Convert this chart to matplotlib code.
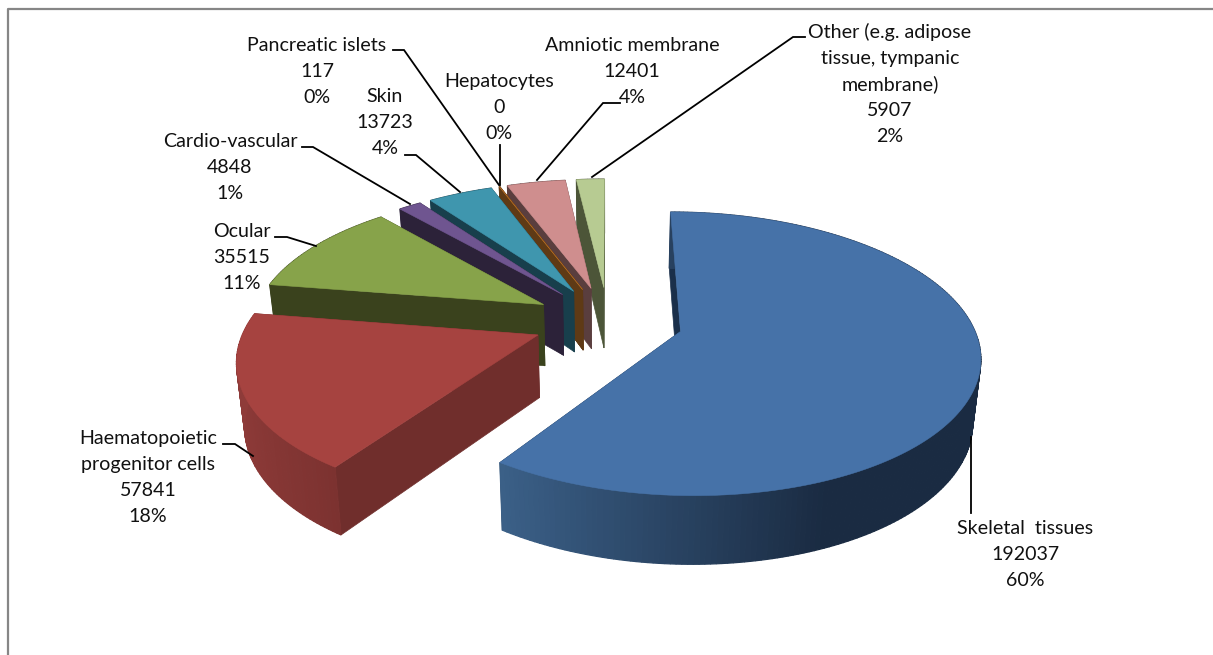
import numpy as np
from matplotlib import pyplot as plt
from matplotlib.colors import to_rgb

labels = ['Skeletal  tissues', 'Haematopoietic\nprogenitor cells', 'Ocular', 'Cardio-vascular',
          'Skin', 'Hepatocytes', 'Pancreatic islets', 'Amniotic membrane',
          'Other (e.g. adipose\ntissue, tympanic\nmembrane)']
values = [192037, 57841, 35515, 4848, 13723, 0, 117, 12401, 5907]
percents = ['60%', '18%', '11%', '1%', '4%', '0%', '0%', '4%', '2%']

top_cols = ['#4672a8', '#a64340', '#87a34a', '#6f5590', '#3f96ae', '#d9822b', '#9c5a22', '#cf8e8e', '#b7cb92']
face_cols = ['#1a2f4a', '#702e2c', '#3a421d', '#2c2239', '#183f4c', '#5f3a15', '#5f3a15', '#5a3e3e', '#4c5538']
side_left = ['#3b6088', '#8f3b39', '#3a421d', '#2c2239', '#183f4c', '#5f3a15', '#5f3a15', '#5a3e3e', '#4c5538']
side_right = ['#1a2b42', '#7c3230', '#3a421d', '#2c2239', '#183f4c', '#5f3a15', '#5f3a15', '#5a3e3e', '#4c5538']

# where the labels sit (centre x, y of the first baseline)
label_pos = [(1025, 534), (148, 444), (242, 237), (230, 147), (385, 102),
             (499, 87), (317, 51), (632, 51), (890, 38)]
leaders = [[(971, 437), (971, 513)],
           [(223, 444), (235, 444), (253, 456)],
           [(275, 237), (287, 237), (316, 246)],
           [(302, 147), (313, 147), (410, 204)],
           [(405, 155), (416, 155), (460, 192)],
           [(500, 145), (500, 185)],
           [(393, 50), (404, 50), (499, 185)],
           [(620, 103), (603, 103), (537, 180)],
           [(805, 37), (793, 37), (592, 177)]]

# pie geometry in pixels
cx, cy = 608, 321
R, A = 291, 135
persp = 0.156
depth = 62
explode = 0.2578
line_gap = 26


def project(x, y, down=0.0):
    # y > 0 is towards the viewer, down is 0 on the top face and 1 on the bottom
    w = 1 / (1 - persp * y)
    return cx + R * x * w * (1 - 0.022 * down), cy + A * y * w + depth * down * (1 + 0.1 * y)


def rim(a, off):
    return off[0] + np.sin(a), off[1] - np.cos(a)


def quad(ax, p, q, col, lw=0.5):
    x0, y0 = project(p[0], p[1])
    x1, y1 = project(q[0], q[1])
    x2, y2 = project(q[0], q[1], 1)
    x3, y3 = project(p[0], p[1], 1)
    ax.fill([x0, x1, x2, x3], [y0, y1, y2, y3], color=col, lw=lw)


fig, ax = plt.subplots(figsize=(12.13, 6.55), dpi=100)
ax.set_position([0, 0, 1, 1])
ax.set_xlim(0, 1213)
ax.set_ylim(655, 0)
ax.axis('off')

ax.plot([7.5, 7.5, 1220], [660, 8.5, 8.5], color='#868686', lw=1.6)

edges = np.cumsum([0] + values) / sum(values) * 2 * np.pi

# back slices first, the two big ones at the front go last
for i in [8, 7, 6, 5, 4, 3, 2, 1, 0]:
    a0, a1 = edges[i], edges[i + 1]
    mid = (a0 + a1) / 2
    off = (explode * np.sin(mid), -explode * np.cos(mid))

    quad(ax, off, rim(a1, off), face_cols[i])
    quad(ax, off, rim(a0, off), face_cols[i])

    aa = np.linspace(a0, a1, max(int((a1 - a0) * 60), 2))
    c0, c1 = np.array(to_rgb(side_left[i])), np.array(to_rgb(side_right[i]))
    for j in range(len(aa) - 1):
        # the outer wall gets darker going right, over a different span for blue and red
        s = np.sin(aa[j])
        t = (s + 0.56) / 0.95 if i == 0 else (s + 1) / 0.44
        c = c0 + (c1 - c0) * np.clip(t, 0, 1)
        quad(ax, rim(aa[j], off), rim(aa[j + 1], off), tuple(c), lw=0.9)

    xs, ys = project(*rim(aa, off))
    ax.fill(np.r_[project(*off)[0], xs], np.r_[project(*off)[1], ys], color=top_cols[i], lw=0.4)

for i in range(len(values)):
    pts = np.array(leaders[i])
    ax.plot(pts[:, 0], pts[:, 1], color='black', lw=1.3, solid_joinstyle='miter')
    lines = labels[i].split('\n') + [str(values[i]), percents[i]]
    for k, line in enumerate(lines):
        ax.text(label_pos[i][0], label_pos[i][1] + k * line_gap, line, family=['Lato', 'DejaVu Sans'],
                fontsize=14.1, color='#111111', ha='center', va='baseline')

fig.savefig('out.png', dpi=100)
